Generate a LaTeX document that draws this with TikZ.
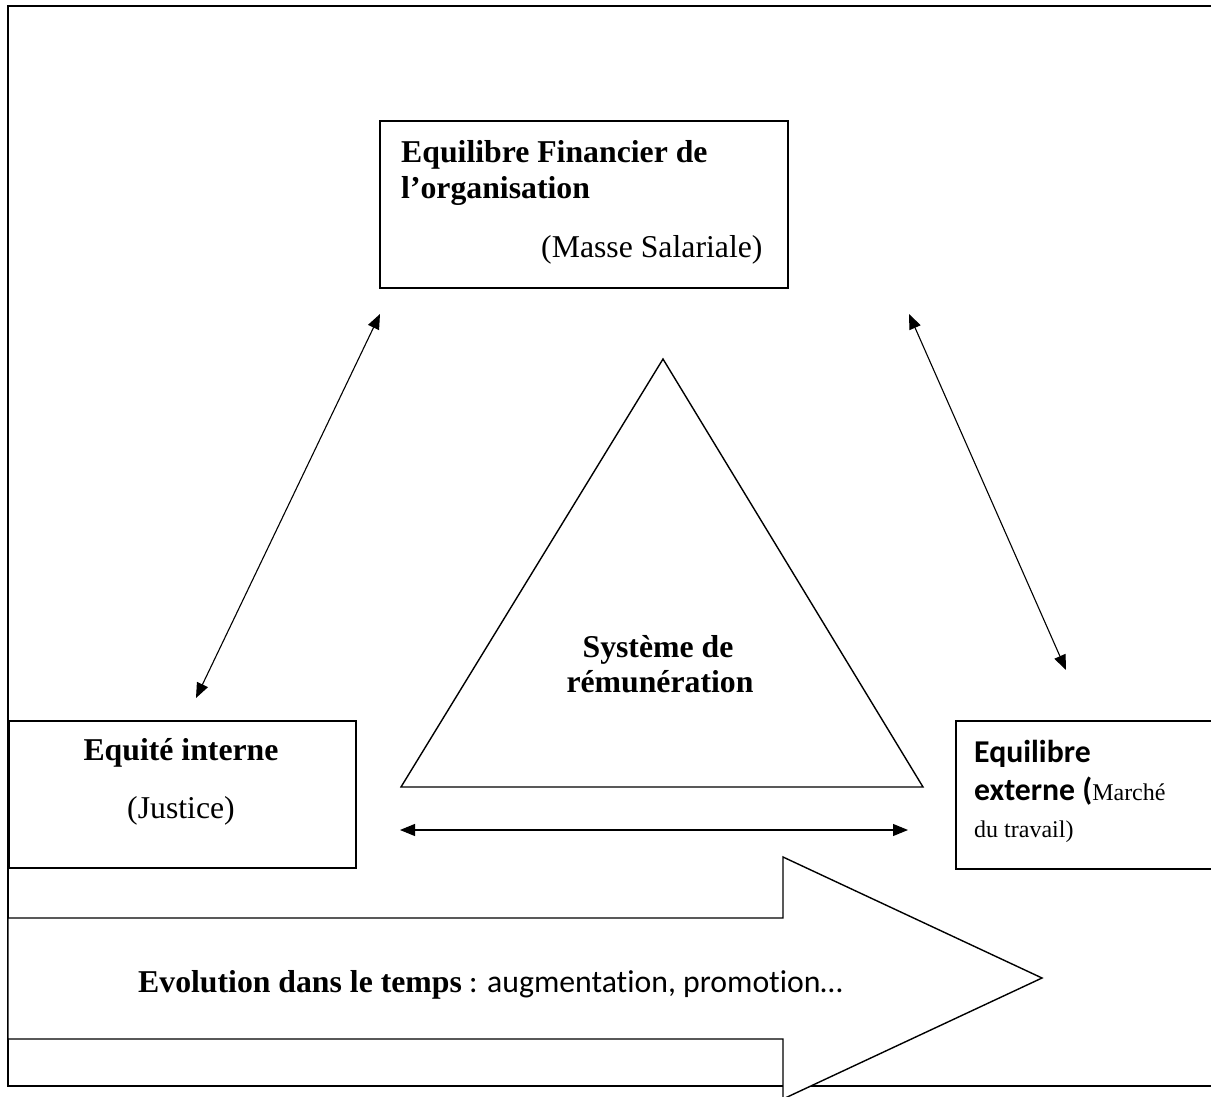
\documentclass[tikz,border=0pt]{standalone}
\usepackage{fontspec}
\setmainfont{Liberation Serif}
\newfontfamily\calfont[Ligatures={NoCommon}]{Carlito}
\usetikzlibrary{arrows.meta}
\newcommand\bigsz{\fontsize{31.75pt}{36.5pt}\selectfont}
\newcommand\smallsz{\fontsize{24pt}{28pt}\selectfont}
\tikzset{
  frameline/.style={line width=2.2pt},
  boxnode/.style={draw, line width=2pt, rectangle, inner sep=0pt, anchor=north west},
  txt/.style={inner sep=0pt, font=\bigsz},
  btxt/.style={inner sep=0pt, font=\bigsz\bfseries},
  thinline/.style={line width=1.4pt, line join=miter},
  dbl/.style={{Triangle[length=15pt,width=12pt]}-{Triangle[length=15pt,width=12pt]}, line width=1.1pt},
}
\begin{document}
\begin{tikzpicture}[x=1pt,y=-1pt]
\useasboundingbox (0,0) rectangle (1211,1097);
% outer frame
\draw[frameline] (8,6) rectangle (1225,1086);
% boxes
\node[boxnode, minimum width=408pt, minimum height=167pt] (fin) at (379,120) {};
\node[boxnode, minimum width=347pt, minimum height=147pt] (int) at (8,720) {};
\node[boxnode, minimum width=280pt, minimum height=148pt] (ext) at (955,720) {};
% box texts
\node[btxt, anchor=base west] (fin1) at (401,163) {Equilibre Financier de};
\node[btxt, anchor=base west] (fin2) at (401,198) {l’organisation};
\node[txt, anchor=base west] (fin3) at (541,258) {(Masse Salariale)};
\node[btxt, anchor=base] (int1) at (181,760) {Equité interne};
\node[txt, anchor=base] (int2) at (181,818) {(Justice)};
\node[inner sep=0pt, anchor=base west, font=\bigsz\calfont\bfseries] (ext1) at (974,762) {Equilibre};
\node[inner sep=0pt, anchor=base west, font=\bigsz\calfont\bfseries] (ext2) at (974,800) {externe (\normalfont\smallsz Marché};
\node[inner sep=0pt, anchor=base west, font=\smallsz] (ext3) at (974,837) {du travail)};
% triangle
\draw[thinline] (663,359) -- (923,787) -- (401,787) -- cycle;
\node[btxt, anchor=base] (sys1) at (658,657) {Système de};
\node[btxt, anchor=base] (sys2) at (660,692) {rémunération};
% connectors
\coordinate (l1) at (380,314);
\coordinate (l2) at (196,698);
\coordinate (r1) at (909,314);
\coordinate (r2) at (1066,670);
\coordinate (h1) at (400,830);
\coordinate (h2) at (908,830);
\draw[dbl] (l1) -- (l2);
\draw[dbl] (r1) -- (r2);
\draw[dbl] (h1) -- (h2);
% big arrow
\draw[thinline, fill=white] (8,918) -- (783,918) -- (783,857) -- (1042,978) -- (783,1099) -- (783,1039) -- (8,1039) -- cycle;
\node[inner sep=0pt, anchor=base west, font=\bigsz] (evo) at (138,992) {{\bfseries Evolution dans le temps}\calfont{} : augmentation, promotion…};
\end{tikzpicture}
\end{document}
